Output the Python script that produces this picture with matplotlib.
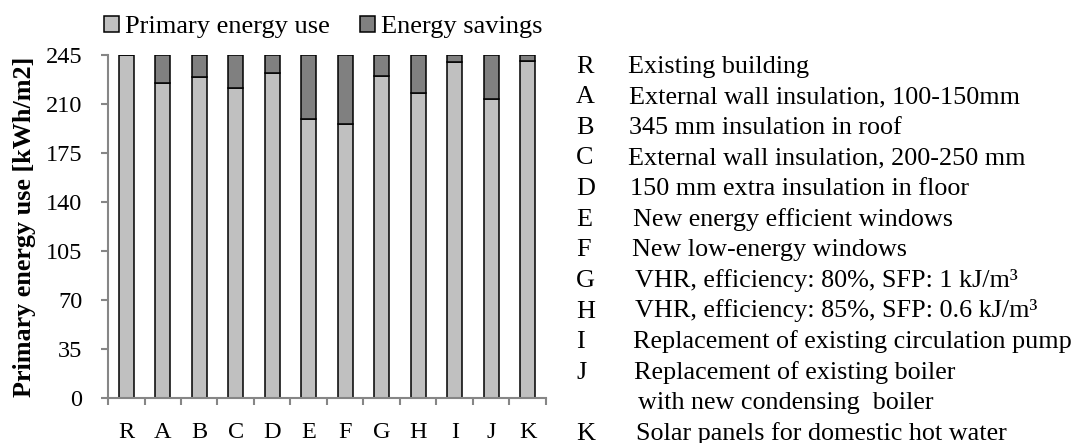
import matplotlib.pyplot as plt
import numpy as np

plt.rcParams['font.family'] = ['Liberation Serif', 'DejaVu Serif']

codes = ['R', 'A', 'B', 'C', 'D', 'E', 'F', 'G', 'H', 'I', 'J', 'K']
primary = [245, 225, 229.5, 221.5, 232, 199.5, 196, 230, 218, 240, 213.5, 241]
total = 245
savings = [total - p for p in primary]

descr = ['Existing building',
         'External wall insulation, 100-150mm',
         '345 mm insulation in roof',
         'External wall insulation, 200-250 mm',
         '150 mm extra insulation in floor',
         'New energy efficient windows',
         'New low-energy windows',
         'VHR, efficiency: 80%, SFP: 1 kJ/m³',
         'VHR, efficiency: 85%, SFP: 0.6 kJ/m³',
         'Replacement of existing circulation pump',
         'Replacement of existing boiler',
         'with new condensing  boiler',
         'Solar panels for domestic hot water']
descr_codes = ['R', 'A', 'B', 'C', 'D', 'E', 'F', 'G', 'H', 'I', 'J', '', 'K']
# small indents as in the original text box (pixels)
descr_x = [628, 629, 629, 628, 630, 633, 632, 635, 635, 633, 634, 638, 636]

W, H = 1081, 443
fs_tick = 17.5
fs_text = 18.8
fs_leg = 19.0
fig = plt.figure(figsize=(W / 100, H / 100), dpi=100)
ax = fig.add_axes([108 / W, 1 - 398 / H, 438 / W, 343 / H])

x = np.arange(len(codes))
ax.bar(x, primary, width=0.41, color='#c0c0c0', edgecolor='black', linewidth=1.1,
       label='Primary energy use')
ax.bar(x, savings, width=0.41, bottom=primary, color='#808080', edgecolor='black',
       linewidth=1.1, label='Energy savings')

ax.set_xlim(-0.5, len(codes) - 0.5)
ax.set_ylim(0, 245)
ax.set_yticks(np.arange(0, 246, 35))
ax.set_xticks(x)
ax.set_xticklabels(codes)
ax.set_xticks(np.arange(-0.5, len(codes), 1), minor=True)

grey = '#868686'
for s in ['top', 'right']:
    ax.spines[s].set_visible(False)
for s in ['left', 'bottom']:
    ax.spines[s].set_color(grey)
    ax.spines[s].set_linewidth(1.5)

ax.tick_params(axis='x', which='major', length=0, pad=17.5, labelsize=fs_tick)
ax.tick_params(axis='x', which='minor', length=5, width=1.5, color=grey, direction='out')
ax.tick_params(axis='y', length=5, width=1.5, color=grey, direction='out', pad=13.5,
               labelsize=fs_tick)

fig.text(25 / W, 1 - 227 / H, 'Primary energy use [kWh/m2]', rotation=90,
         ha='center', va='center', fontsize=fs_text, fontweight='bold')

leg = ax.legend(loc='center left', bbox_to_anchor=(104 / W, 1 - 27 / H),
                bbox_transform=fig.transFigure, ncol=2, frameon=False, fontsize=fs_leg,
                handlelength=0.55, handleheight=0.55, handletextpad=0.25,
                columnspacing=1.15, borderaxespad=0, borderpad=0)

for i, (c, d) in enumerate(zip(descr_codes, descr)):
    yb = 1 - (72.7 + i * 30.6) / H
    if c:
        fig.text(576 / W, yb, c, fontsize=fs_text, va='baseline', ha='left')
    fig.text(descr_x[i] / W, yb, d, fontsize=fs_text, va='baseline', ha='left')

fig.savefig('out.png', dpi=100)
